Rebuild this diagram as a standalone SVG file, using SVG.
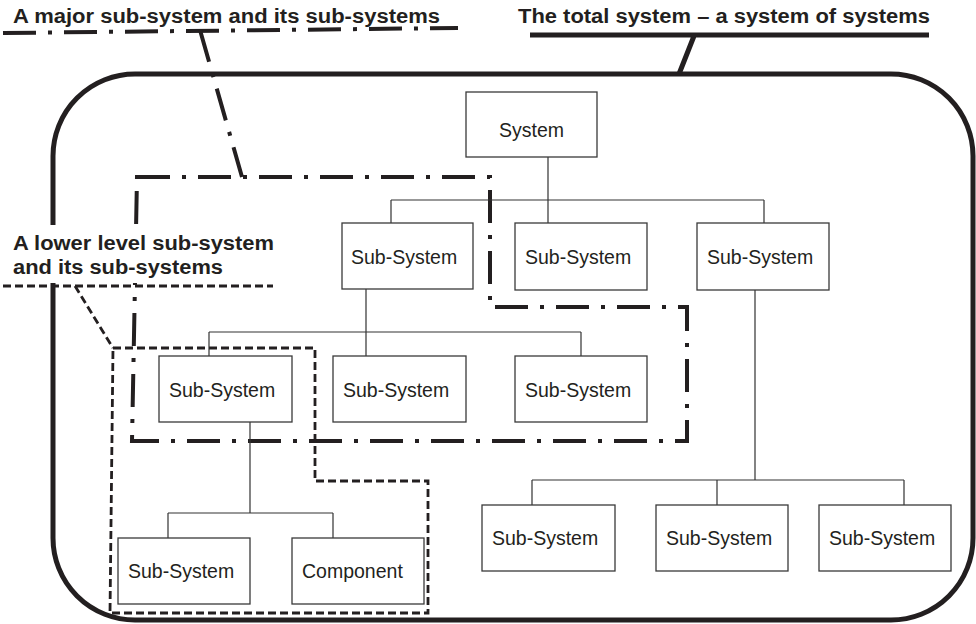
<svg xmlns="http://www.w3.org/2000/svg" width="976" height="624" viewBox="0 0 976 624">
<style>
.box{fill:#fff;stroke:#3a3a3a;stroke-width:1.3}
.t{font-family:"Liberation Sans",Arial,sans-serif;font-size:19.5px;fill:#231f20}
.lbl{font-family:"Liberation Sans",Arial,sans-serif;font-size:20px;font-weight:bold;fill:#231f20}
.con{fill:none;stroke:#333;stroke-width:1.2}
.dd{fill:none;stroke:#231f20;stroke-width:4;stroke-dasharray:33 12 4 12}
.ds{fill:none;stroke:#231f20;stroke-width:2.8;stroke-dasharray:8 4}
.solid{fill:none;stroke:#231f20;stroke-width:5}
</style>
<rect width="976" height="624" fill="#fff"/>
<g id="total-system-boundary">
<rect class="solid" x="53" y="74" width="920" height="546" rx="82" ry="82"/>
</g>
<g id="major-subsystem-region">
<path class="dd" d="M137,177 L490,177 L490,307 L687,307 L687,441 L132,441 Z"/>
</g>
<g id="lower-subsystem-region">
<path class="ds" d="M113,348 L315,348 L315,481 L428,481 L428,613 L110,613 Z"/>
</g>
<g id="label-major">
<text class="lbl" x="13" y="23" textLength="427" lengthAdjust="spacingAndGlyphs">A major sub-system and its sub-systems</text>
<path class="dd" d="M3,33 L458,28"/>
<path class="dd" d="M200,30 L242,177"/>
</g>
<g id="label-total">
<text class="lbl" x="518" y="23" textLength="412" lengthAdjust="spacingAndGlyphs">The total system – a system of systems</text>
<path class="solid" d="M530,35 L929,35 M694,36 L679,74"/>
</g>
<g id="label-lower">
<rect x="6" y="225" width="276" height="58" fill="#fff"/>
<text class="lbl" x="13" y="250" textLength="261" lengthAdjust="spacingAndGlyphs">A lower level sub-system</text>
<text class="lbl" x="13" y="274" textLength="210" lengthAdjust="spacingAndGlyphs">and its sub-systems</text>
<path class="ds" d="M3,286 L273,286 M75,286 L113,348"/>
</g>
<g id="connectors">
<path class="con" d="M548,157 V223 M391,200 H764 M391,200 V223 M764,200 V223"/>
<path class="con" d="M366,289 V332 M209,332 H581 M209,332 V356 M366,332 V356 M581,332 V356"/>
<path class="con" d="M250,422 V513 M168,513 H333 M168,513 V538 M333,513 V538"/>
<path class="con" d="M755,290 V480 M532,480 H904 M532,480 V505 M717,480 V505 M904,480 V505"/>
</g>
<g id="n-system"><rect class="box" x="466" y="92" width="131" height="65"/><text class="t" x="531.5" y="137" text-anchor="middle">System</text></g>
<g id="n-ss-2a"><rect class="box" x="342" y="223" width="131" height="66"/><text class="t" x="351" y="264">Sub-System</text></g>
<g id="n-ss-2b"><rect class="box" x="515" y="223" width="132" height="67"/><text class="t" x="525" y="264">Sub-System</text></g>
<g id="n-ss-2c"><rect class="box" x="697" y="223" width="132" height="67"/><text class="t" x="707" y="264">Sub-System</text></g>
<g id="n-ss-3a"><rect class="box" x="159" y="356" width="133" height="66"/><text class="t" x="169" y="397">Sub-System</text></g>
<g id="n-ss-3b"><rect class="box" x="333" y="356" width="133" height="66"/><text class="t" x="343" y="397">Sub-System</text></g>
<g id="n-ss-3c"><rect class="box" x="515" y="356" width="132" height="66"/><text class="t" x="525" y="397">Sub-System</text></g>
<g id="n-ss-4a"><rect class="box" x="118" y="538" width="132" height="66"/><text class="t" x="128" y="578">Sub-System</text></g>
<g id="n-component"><rect class="box" x="292" y="538" width="132" height="66"/><text class="t" x="302" y="578">Component</text></g>
<g id="n-ss-r1"><rect class="box" x="482" y="505" width="133" height="66"/><text class="t" x="492" y="545">Sub-System</text></g>
<g id="n-ss-r2"><rect class="box" x="656" y="505" width="132" height="66"/><text class="t" x="666" y="545">Sub-System</text></g>
<g id="n-ss-r3"><rect class="box" x="819" y="505" width="132" height="66"/><text class="t" x="829" y="545">Sub-System</text></g>
</svg>
